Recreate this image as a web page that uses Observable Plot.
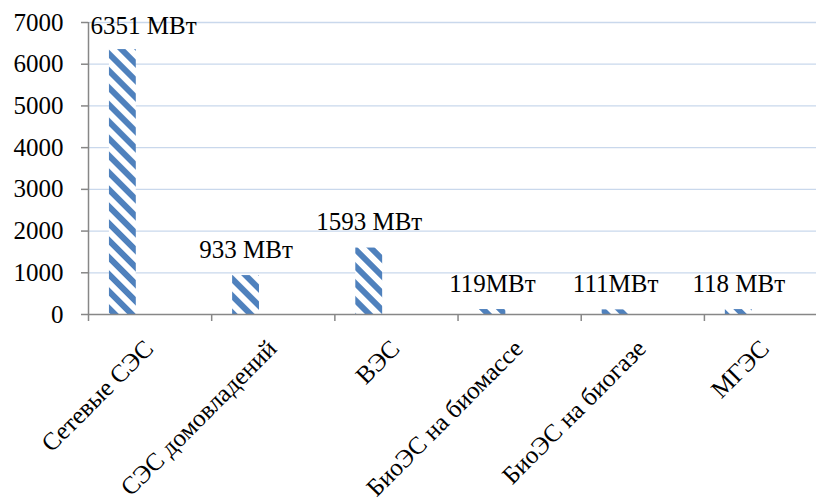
<!DOCTYPE html>
<html>
<head>
<meta charset="utf-8">
<script src="https://cdn.jsdelivr.net/npm/d3@7"></script>
<script src="https://cdn.jsdelivr.net/npm/@observablehq/plot@0.6"></script>
<style>
  html, body { margin: 0; padding: 0; background: #ffffff; }
  #chart svg { display: block; }
</style>
</head>
<body>
<div id="chart"></div>
<script>
// Установленная мощность объектов ВИЭ, МВт
const categories = ["Сетевые СЭС", "СЭС домовладений", "ВЭС", "БиоЭС на биомассе", "БиоЭС на биогазе", "МГЭС"];
const values = [6351, 933, 1593, 119, 111, 118];
const valueLabels = ["6351 МВт", "933 МВт", "1593 МВт", "119МВт", "111МВт", "118 МВт"];
const yTicks = [0, 1000, 2000, 3000, 4000, 5000, 6000, 7000];

const data = categories.map((name, i) => ({i, name, value: values[i], label: valueLabels[i]}));
const gridValues = yTicks.filter(v => v > 0);
const categoryTicks = categories.map((_, i) => i);

const axisColor = "#878787";
const gridColor = "#c9d8ec";
const barColor = "#4f81bd";
const serif = "Liberation Serif";

const chart = Plot.plot({
  width: 816,
  height: 501,
  marginLeft: 88,
  marginRight: 0,
  marginTop: 22,
  marginBottom: 187,
  style: {fontSize: "25px", background: "#ffffff", color: "#000000", overflow: "visible"},
  x: {type: "linear", domain: [0, 5.91]},
  y: {domain: [0, 7000]},
  marks: [
    // горизонтальная сетка
    Plot.ruleY(gridValues, {stroke: gridColor, strokeWidth: 1.3}),
    // столбцы со штриховкой
    Plot.rectY(data, {x1: d => d.i + 0.17, x2: d => d.i + 0.388, y: "value", fill: "url(#hatch)"}),
    // оси
    Plot.axisY({ticks: yTicks, tickSize: 7, tickPadding: 18, stroke: axisColor, strokeWidth: 1.5, fill: "#000000", label: null, tickFormat: d => String(d), fontFamily: serif}),
    Plot.axisX({ticks: categoryTicks, tickSize: 7, stroke: axisColor, strokeWidth: 1.5, tickFormat: () => "", label: null}),
    Plot.ruleX([0], {y1: 0, y2: 7000, stroke: axisColor, strokeWidth: 1.5}),
    Plot.ruleY([0], {stroke: axisColor, strokeWidth: 1.5}),
    // подписи значений
    Plot.text(data.slice(1), {x: d => d.i + 0.279, y: "value", text: "label", lineAnchor: "bottom", dy: -18, fill: "#000000", fontFamily: serif}),
    Plot.text(data.slice(0, 1), {x: 0, y: "value", text: "label", textAnchor: "start", lineAnchor: "bottom", dx: 2, dy: -16, fill: "#000000", fontFamily: serif}),
    // подписи категорий
    Plot.text(data, {x: d => d.i + 0.5, text: "name", frameAnchor: "bottom", rotate: -45, textAnchor: "end", lineAnchor: "middle", dx: -1, dy: 30, fill: "#000000", fontFamily: serif})
  ]
});

// гарнитура с засечками на каждой надписи
d3.select(chart).selectAll("text")
  .attr("font-family", serif)
  .style("font-family", "\"Liberation Serif\", Tinos, \"Times New Roman\", serif");

// штриховка «широкая нисходящая диагональ»
const defs = d3.select(chart).insert("defs", ":first-child");
const pattern = defs.append("pattern")
  .attr("id", "hatch")
  .attr("patternUnits", "userSpaceOnUse")
  .attr("width", 12)
  .attr("height", 12)
  .attr("patternTransform", "rotate(-45)");
pattern.append("rect").attr("width", 12).attr("height", 12).attr("fill", "#ffffff");
pattern.append("rect").attr("width", 6).attr("height", 12).attr("fill", barColor);

document.getElementById("chart").appendChild(chart);
</script>
</body>
</html>
